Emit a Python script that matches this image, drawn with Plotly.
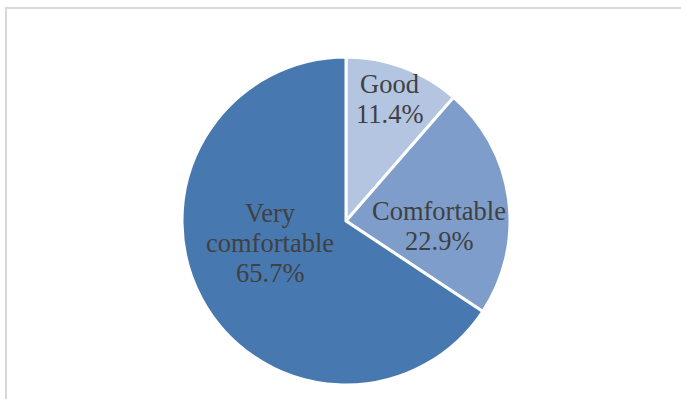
import math
import plotly.graph_objects as go

# Comfort rating shares (%)
labels = ["Good", "Comfortable", "Very comfortable"]
label_lines = [["Good"], ["Comfortable"], ["Very", "comfortable"]]
shares = [11.4, 22.9, 65.7]
colors = ["#b4c5e1", "#7e9dca", "#4878b0"]

# where each label sits inside its slice: fraction of radius, extra turn (deg)
label_radius = [0.79, 0.57, 0.48]
label_turn = [-0.8, 11.0, 12.0]

W, H = 681, 399
L, R, T, B = 182, 171, 57, 14
FONT = dict(family="Liberation Serif", size=26.5, color="#404040")
LINE_STEP = 30  # px between label lines

fig = go.Figure(
    go.Pie(
        labels=labels,
        values=shares,
        sort=False,
        direction="clockwise",
        rotation=0,
        marker=dict(colors=colors, line=dict(color="white", width=3)),
        textinfo="none",
        hoverinfo="label+percent",
        showlegend=False,
    )
)

# data labels, placed along each slice's bisector
total = sum(shares)
start = 0.0
for lines, v, rf, turn in zip(label_lines, shares, label_radius, label_turn):
    span = v / total * 360.0
    ang = math.radians(start + span / 2 + turn)
    start += span
    cx = 0.5 + 0.5 * rf * math.sin(ang)
    cy = 0.5 + 0.5 * rf * math.cos(ang)
    rows = lines + [f"{v:.1f}%"]
    n = len(rows)
    for i, row in enumerate(rows):
        fig.add_annotation(
            x=cx, y=cy, xref="paper", yref="paper",
            text=row, showarrow=False,
            xanchor="center", yanchor="middle",
            yshift=((n - 1) / 2 - i) * LINE_STEP,
            font=FONT,
        )

pw, ph = W - L - R, H - T - B


def px_x(x):
    return (x - L) / pw


def px_y(y):
    return 1 - (y - T) / ph


# thin grey frame along the top and left edges
fig.add_shape(
    type="path",
    xref="paper", yref="paper",
    path=f"M {px_x(6)} {px_y(430)} L {px_x(6)} {px_y(8)} L {px_x(700)} {px_y(8)}",
    line=dict(color="#d9d9d9", width=2),
)

fig.update_layout(
    width=W,
    height=H,
    margin=dict(l=L, r=R, t=T, b=B),
    paper_bgcolor="white",
    plot_bgcolor="white",
)

fig.write_html("out.html")
